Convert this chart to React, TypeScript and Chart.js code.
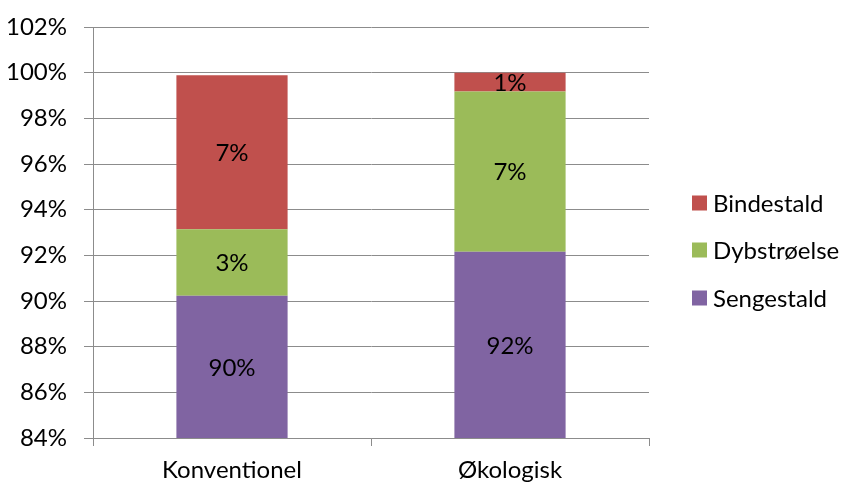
import React, { useEffect, useRef } from "react";
import { Chart, registerables } from "chart.js";

Chart.register(...registerables);

const categories = ["Konventionel", "Økologisk"];
const sengestald = [90.23, 92.16];
const dybstroelse = [2.91, 7.01];
const bindestald = [6.75, 0.83];
const yTicks = [84, 86, 88, 90, 92, 94, 96, 98, 100, 102];

const FONT = "Lato, 'Open Sans', sans-serif";
const FS = 24;
const GRID = "#8c8c8c";

const segmentLabels = {
  id: "segmentLabels",
  afterDatasetsDraw(chart: any) {
    const ctx = chart.ctx;
    ctx.save();
    ctx.font = `${FS}px ${FONT}`;
    ctx.fillStyle = "#000";
    ctx.textAlign = "center";
    ctx.textBaseline = "middle";
    chart.data.datasets.forEach((ds: any, di: number) => {
      const meta = chart.getDatasetMeta(di);
      meta.data.forEach((bar: any, i: number) => {
        const v = ds.data[i];
        const top = bar.y;
        const bottom = Math.min(bar.base, chart.chartArea.bottom);
        ctx.fillText(Math.round(v) + "%", bar.x, (top + bottom) / 2 + 1);
      });
    });
    ctx.restore();
  },
};

const sideLegend = {
  id: "sideLegend",
  afterDraw(chart: any) {
    const ctx = chart.ctx;
    const ds = chart.data.datasets;
    const x = chart.chartArea.right + 43;
    const ys = [203, 250, 298];
    ctx.save();
    ctx.font = `${FS}px ${FONT}`;
    ctx.textAlign = "left";
    ctx.textBaseline = "middle";
    const order = [2, 1, 0];
    order.forEach((di, k) => {
      const y = ys[k];
      ctx.fillStyle = ds[di].backgroundColor;
      ctx.fillRect(x, y - 7.5, 15, 15);
      ctx.fillStyle = "#000";
      ctx.fillText(ds[di].label, x + 21, y + 1);
    });
    ctx.restore();
  },
};

export default function App() {
  const ref = useRef<HTMLCanvasElement>(null);
  useEffect(() => {
    document.body.style.margin = "0";
    const chart = new Chart(ref.current!, {
      type: "bar",
      data: {
        labels: categories,
        datasets: [
          { label: "Sengestald", data: sengestald, backgroundColor: "#8064A2" },
          { label: "Dybstrøelse", data: dybstroelse, backgroundColor: "#9BBB59" },
          { label: "Bindestald", data: bindestald, backgroundColor: "#C0504D" },
        ],
      },
      options: {
        animation: false,
        responsive: false,
        devicePixelRatio: 1,
        layout: { padding: { top: 27, right: 194, left: 0, bottom: 0 } },
        datasets: { bar: { barPercentage: 0.4, categoryPercentage: 1 } },
        plugins: { legend: { display: false }, tooltip: { enabled: false } },
        scales: {
          x: {
            stacked: true,
            grid: {
              offset: true,
              drawOnChartArea: false,
              drawTicks: true,
              tickLength: 8,
              color: GRID,
            },
            border: { display: true, color: GRID },
            ticks: { font: { family: FONT, size: FS }, color: "#000", padding: 10 },
            afterFit: (s: any) => { s.height = 45; },
          },
          y: {
            stacked: true,
            min: 84,
            max: 102,
            afterBuildTicks: (s: any) => { s.ticks = yTicks.map((v) => ({ value: v })); },
            grid: { color: GRID, tickLength: 9, drawTicks: true },
            border: { display: true, color: GRID },
            ticks: {
              font: { family: FONT, size: FS, lineHeight: 0.5 },
              color: "#000",
              padding: 17,
              callback: (v: any) => v + "%",
            },
            afterFit: (s: any) => { s.width = 93; },
          },
        },
      },
      plugins: [segmentLabels, sideLegend],
    });
    return () => chart.destroy();
  }, []);
  return (
    <div style={{ width: 843, height: 483 }}>
      <canvas ref={ref} width={843} height={483} />
    </div>
  );
}
